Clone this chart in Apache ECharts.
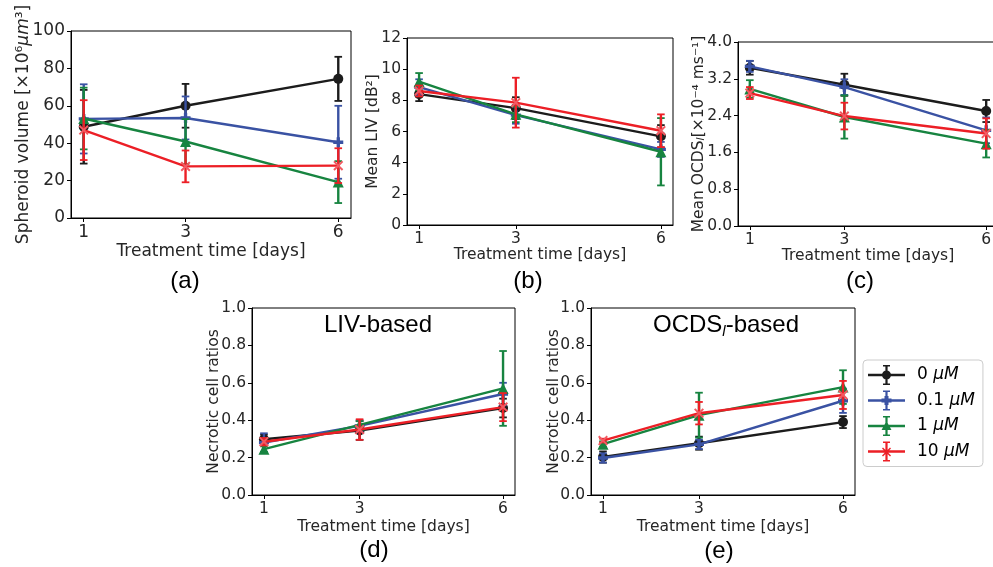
<!DOCTYPE html>
<html><head><meta charset="utf-8">
<script src="https://cdn.jsdelivr.net/npm/echarts@6/dist/echarts.min.js"></script>
<style>html,body{margin:0;padding:0;background:#fff}#c{width:993px;height:567px}</style>
</head><body><div id="c"></div>
<script>
// ---- data ----
const days = [1, 3, 6];
const seriesNames = ['0 μM', '0.1 μM', '1 μM', '10 μM'];
const xTicks = [1, 3, 6];
// (a) spheroid volume
const aMeans = [[48.8, 60.0, 74.4], [53.0, 53.5, 40.5], [53.2, 40.9, 19.2], [47.0, 27.6, 28.0]];
const aErrs  = [[19.7, 11.7, 11.8], [18.5, 11.5, 19.5], [16.5, 12.0, 11.2], [16.0, 8.5, 9.3]];
const aTicks = [0, 20, 40, 60, 80, 100];
// (b) mean LIV
const bMeans = [[8.4, 7.5, 5.69], [8.85, 7.05, 4.85], [9.2, 7.1, 4.7], [8.6, 7.85, 6.05]];
const bErrs  = [[0.45, 0.7, 0.72], [0.5, 0.55, 0.48], [0.55, 0.5, 2.16], [0.35, 1.6, 1.05]];
const bTicks = [0, 2, 4, 6, 8, 10, 12];
// (c) mean OCDS_l
const cMeans = [[3.44, 3.07, 2.50], [3.47, 3.02, 2.08], [2.98, 2.37, 1.79], [2.89, 2.39, 2.01]];
const cErrs  = [[0.15, 0.24, 0.24], [0.12, 0.17, 0.28], [0.19, 0.47, 0.30], [0.13, 0.29, 0.33]];
const cTicks = [0.0, 0.8, 1.6, 2.4, 3.2, 4.0];
// (d) LIV-based necrotic ratio
const dMeans = [[0.298, 0.345, 0.465], [0.28, 0.37, 0.54], [0.245, 0.375, 0.57], [0.285, 0.35, 0.47]];
const dErrs  = [[0.025, 0.05, 0.05], [0.05, 0.03, 0.06], [0.015, 0.02, 0.2], [0.02, 0.055, 0.075]];
// (e) OCDS_l-based necrotic ratio
const eMeans = [[0.203, 0.277, 0.39], [0.198, 0.271, 0.504], [0.272, 0.427, 0.577], [0.291, 0.4375, 0.535]];
const eErrs  = [[0.03, 0.035, 0.032], [0.025, 0.025, 0.065], [0.015, 0.12, 0.09], [0.01, 0.06, 0.075]];
const ratioTicks = [0.0, 0.2, 0.4, 0.6, 0.8, 1.0];

// ---- style ----
const colors = ['#1c1c1c', '#3a52a3', '#178440', '#ec1f26'];
const markerSyms = [
  'circle',
  'path://M3 0 H6 V3 H9 V6 H6 V9 H3 V6 H0 V3 H3 Z',
  'triangle',
  'path://M0 1.4 L1.4 0 L10 8.6 L8.6 10 Z M8.6 0 L10 1.4 L1.4 10 L0 8.6 Z'
];
const base = 'M0 8.8 H37 V11.2 H0 Z M17.4 1 H19.6 V19 H17.4 Z M15 0 H22 V1.6 H15 Z M15 18.4 H22 V20 H15 Z ';
const legendIcons = [
  'path://' + base + 'M14 10 A4.5 4.5 0 1 1 23 10 A4.5 4.5 0 1 1 14 10 Z',
  'path://' + base + 'M16.5 5.5 H20.5 V8 H23.5 V12 H20.5 V14.5 H16.5 V12 H13.5 V8 H16.5 Z',
  'path://' + base + 'M18.5 5 L23.5 14 L13.5 14 Z',
  'path://' + base + 'M14 7 L15 6 L23 14 L22 15 Z M22 6 L23 7 L15 15 L14 14 Z'
];
const FONT = 'DejaVu Sans';
const ARIAL = 'Liberation Sans';
const txt = '#262626';

const panels = [
  {means: aMeans, errs: aErrs, ticks: aTicks, dec: 0, fs: 17,
   grid: {left: 71, top: 31, width: 280, height: 187}, yGap: 39, xGap: 25,
   yName: '{n|Spheroid volume [×10⁶}{i|μm}{n|³]}'},
  {means: bMeans, errs: bErrs, ticks: bTicks, dec: 0, fs: 15.5,
   grid: {left: 407, top: 38, width: 266, height: 187}, yGap: 26, xGap: 22,
   yName: '{n|Mean LIV [dB²]}'},
  {means: cMeans, errs: cErrs, ticks: cTicks, dec: 1, fs: 15.5,
   grid: {left: 738, top: 42, width: 260, height: 184}, yGap: 31, xGap: 22,
   yName: '{n|Mean OCDS}{s|l}{n|[×10⁻⁴ ms⁻¹]}'},
  {means: dMeans, errs: dErrs, ticks: ratioTicks, dec: 1, fs: 15.5,
   grid: {left: 252, top: 308, width: 263, height: 187}, yGap: 30, xGap: 24,
   yName: '{n|Necrotic cell ratios}'},
  {means: eMeans, errs: eErrs, ticks: ratioTicks, dec: 1, fs: 15.5,
   grid: {left: 591, top: 308, width: 264, height: 187}, yGap: 29, xGap: 24,
   yName: '{n|Necrotic cell ratios}'}
];

function errRender(params, api) {
  const x = api.value(0), lo = api.value(1), hi = api.value(2);
  const p1 = api.coord([x, lo]), p2 = api.coord([x, hi]);
  const c = api.visual('color');
  const cw = 3.8;
  return {type: 'group', children: [
    {type: 'line', shape: {x1: p1[0], y1: p1[1], x2: p2[0], y2: p2[1]}, style: {stroke: c, lineWidth: 2.4}},
    {type: 'line', shape: {x1: p1[0] - cw, y1: p1[1], x2: p1[0] + cw, y2: p1[1]}, style: {stroke: c, lineWidth: 1.8}},
    {type: 'line', shape: {x1: p2[0] - cw, y1: p2[1], x2: p2[0] + cw, y2: p2[1]}, style: {stroke: c, lineWidth: 1.8}}
  ]};
}

const grids = [], xAxes = [], yAxes = [], series = [];
panels.forEach((p, i) => {
  grids.push(Object.assign({show: true, borderColor: '#000', borderWidth: 1, containLabel: false, outerBoundsMode: 'none'}, p.grid));
  xAxes.push({
    type: 'value', gridIndex: i, min: 0.75, max: 6.25,
    axisLine: {show: true, lineStyle: {color: '#000', width: 1}},
    axisTick: {show: true, length: 4, customValues: xTicks, lineStyle: {color: '#000'}},
    axisLabel: {customValues: xTicks, fontSize: p.fs, fontFamily: FONT, color: txt, margin: 6},
    splitLine: {show: false},
    name: 'Treatment time [days]', nameLocation: 'middle', nameGap: p.xGap, nameMoveOverlap: false,
    nameTextStyle: {fontSize: p.fs, fontFamily: FONT, color: txt}
  });
  const tk = p.ticks;
  yAxes.push({
    type: 'value', gridIndex: i, min: tk[0], max: tk[tk.length - 1], interval: tk[1] - tk[0],
    axisLine: {show: true, lineStyle: {color: '#000', width: 1}},
    axisTick: {show: true, length: 4, lineStyle: {color: '#000'}},
    axisLabel: {fontSize: p.fs, fontFamily: FONT, color: txt, margin: 6,
      formatter: v => v.toFixed(p.dec)},
    splitLine: {show: false},
    name: p.yName, nameLocation: 'middle', nameRotate: 90, nameGap: p.yGap, nameMoveOverlap: false,
    nameTextStyle: {fontSize: p.fs, fontFamily: FONT, color: txt,
      rich: {
        n: {fontSize: p.fs, fontFamily: FONT, color: txt},
        i: {fontSize: p.fs, fontFamily: FONT, color: txt, fontStyle: 'italic'},
        s: {fontSize: p.fs * 0.7, fontFamily: FONT, color: txt, fontStyle: 'italic', verticalAlign: 'bottom'}
      }}
  });
  for (let k = 0; k < 4; k++) {
    series.push({
      type: 'custom', name: seriesNames[k], xAxisIndex: i, yAxisIndex: i,
      renderItem: errRender, itemStyle: {color: colors[k]},
      encode: {x: 0, y: [1, 2]}, silent: true, z: 2 + k,
      data: days.map((d, j) => [d, p.means[k][j] - p.errs[k][j], p.means[k][j] + p.errs[k][j]])
    });
    series.push({
      type: 'line', name: seriesNames[k], xAxisIndex: i, yAxisIndex: i,
      data: days.map((d, j) => [d, p.means[k][j]]),
      symbol: markerSyms[k], symbolSize: k === 2 ? 11 : 10, showSymbol: true,
      lineStyle: {color: colors[k], width: 2.4}, itemStyle: {color: k === 3 ? '#f25a62' : colors[k], borderWidth: 0},
      z: 2 + k, silent: true
    });
  }
});

const option = {
  animation: false,
  backgroundColor: '#fff',
  grid: grids, xAxis: xAxes, yAxis: yAxes, series: series,
  legend: {
    orient: 'vertical', left: 863, top: 360,
    backgroundColor: '#fff', borderColor: '#cccccc', borderWidth: 1, borderRadius: 4,
    padding: [5, 8, 5, 5], itemWidth: 37, itemHeight: 20, itemGap: 5.5,
    symbolKeepAspect: false, selectedMode: false,
    itemStyle: {borderWidth: 0},
    data: seriesNames.map((n, k) => ({name: n, icon: legendIcons[k], itemStyle: {color: colors[k]}})),
    formatter: n => '{n|' + n.replace(' μM', ' ') + '}{i|μM}',
    textStyle: {fontSize: 17, fontFamily: FONT, color: '#000', padding: [0, 0, 0, 7],
      rich: {n: {fontSize: 17, fontFamily: FONT, color: '#000'},
             i: {fontSize: 17, fontFamily: FONT, color: '#000', fontStyle: 'italic'}}}
  },
  graphic: [
    {type: 'text', x: 185, y: 281, style: {text: '(a)', font: '24px "Liberation Sans"', fill: '#000', align: 'center', verticalAlign: 'middle'}},
    {type: 'text', x: 528, y: 281, style: {text: '(b)', font: '24px "Liberation Sans"', fill: '#000', align: 'center', verticalAlign: 'middle'}},
    {type: 'text', x: 860, y: 281, style: {text: '(c)', font: '24px "Liberation Sans"', fill: '#000', align: 'center', verticalAlign: 'middle'}},
    {type: 'text', x: 374, y: 550, style: {text: '(d)', font: '24px "Liberation Sans"', fill: '#000', align: 'center', verticalAlign: 'middle'}},
    {type: 'text', x: 719, y: 551, style: {text: '(e)', font: '24px "Liberation Sans"', fill: '#000', align: 'center', verticalAlign: 'middle'}},
    {type: 'text', x: 378, y: 325, style: {text: 'LIV-based', font: '24px "Liberation Sans"', fill: '#000', align: 'center', verticalAlign: 'middle'}},
    {type: 'text', x: 726, y: 325, style: {text: '{a|OCDS}{s|l}{a|-based}', align: 'center', verticalAlign: 'middle',
      rich: {a: {fontSize: 24, fontFamily: ARIAL, fill: '#000', color: '#000'},
             s: {fontSize: 15, fontFamily: ARIAL, fill: '#000', color: '#000', fontStyle: 'italic', verticalAlign: 'bottom', padding: [14, 0, 0, 0]}}}}
  ]
};
const chart = echarts.init(document.getElementById('c'), null, {renderer: 'canvas'});
chart.setOption(option);
</script></body></html>
